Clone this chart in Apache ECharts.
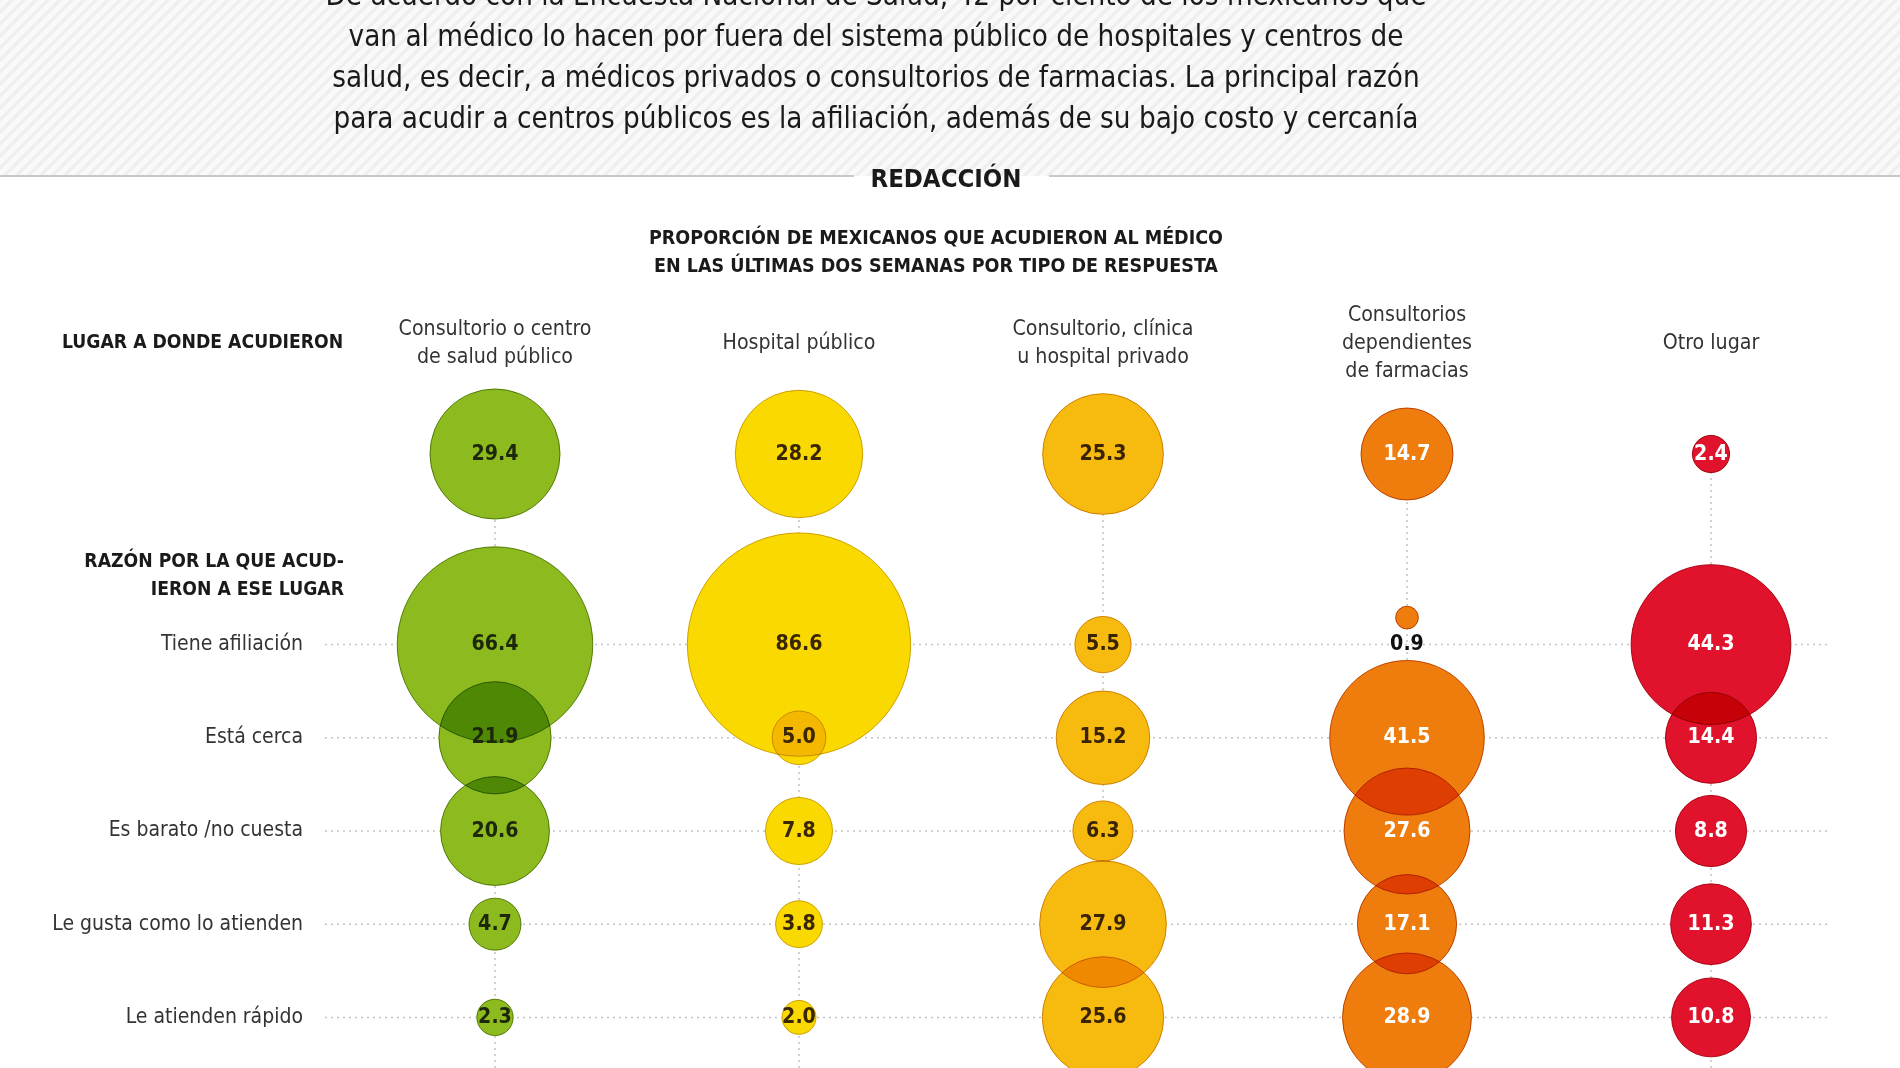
<!DOCTYPE html>
<html><head><meta charset="utf-8">
<script src="https://cdn.jsdelivr.net/npm/echarts@6/dist/echarts.min.js"></script>
<style>html,body{margin:0;padding:0;background:#fff}#c{width:1900px;height:1068px}</style>
</head><body><div id="c"></div>
<script>
// ---------- DATA ----------
const places = ['Consultorio o centro\nde salud público', 'Hospital público', 'Consultorio, clínica\nu hospital privado', 'Consultorios\ndependientes\nde farmacias', 'Otro lugar'];
const placeShare = [29.4, 28.2, 25.3, 14.7, 2.4];
const reasons = ['Tiene afiliación', 'Está cerca', 'Es barato /no cuesta', 'Le gusta como lo atienden', 'Le atienden rápido'];
const reasonPublicCenter = [66.4, 21.9, 20.6, 4.7, 2.3];
const reasonPublicHospital = [86.6, 5.0, 7.8, 3.8, 2.0];
const reasonPrivate = [5.5, 15.2, 6.3, 27.9, 25.6];
const reasonPharmacy = [0.9, 41.5, 27.6, 17.1, 28.9];
const reasonOther = [44.3, 14.4, 8.8, 11.3, 10.8];
const introLines = [
  'De acuerdo con la Encuesta Nacional de Salud, 42 por ciento de los mexicanos que',
  'van al médico lo hacen por fuera del sistema público de hospitales y centros de',
  'salud, es decir, a médicos privados o consultorios de farmacias. La principal razón',
  'para acudir a centros públicos es la afiliación, además de su bajo costo y cercanía'
];
const byline = 'REDACCIÓN';
const titleLines = ['PROPORCIÓN DE MEXICANOS QUE ACUDIERON AL MÉDICO', 'EN LAS ÚLTIMAS DOS SEMANAS POR TIPO DE RESPUESTA'];
const topRowLabel = 'LUGAR A DONDE ACUDIERON';
const reasonHeader = 'RAZÓN POR LA QUE ACUD-\nIERON A ESE LUGAR';

// ---------- STYLE ----------
const fills = ['#8dba1e', '#fad900', '#f7bb10', '#ee7d0e', '#e1122c'];
const strokes = ['#6f961a', '#d2b000', '#d69a06', '#c8620c', '#b50c22'];
const labelColors = ['#1d280a', '#3a2600', '#3a2300', '#ffffff', '#ffffff'];
const R = 12; // px of radius per sqrt(value): bubble area proportional to value

const probe = document.createElement('canvas').getContext('2d');
function available(name) {
  const s = 'abcdefghijklmnopqrstuvwxyz0123456789';
  probe.font = '40px monospace'; const a = probe.measureText(s).width;
  probe.font = `40px "${name}", monospace`; const b = probe.measureText(s).width;
  probe.font = '40px serif'; const c = probe.measureText(s).width;
  probe.font = `40px "${name}", serif`; const d = probe.measureText(s).width;
  return a !== b || c !== d;
}
const FAMILY = ['Liberation Sans Narrow', 'DejaVu Sans Condensed', 'Open Sans'].find(available) || 'sans-serif';
const FF = `"${FAMILY}", sans-serif`;
function fit(text, width, weight) {
  probe.font = `${weight} 100px ${FF}`;
  return +(100 * width / probe.measureText(text).width).toFixed(1);
}
const SZ = {
  intro: fit(introLines[2], 1086, 'normal'),
  byline: fit(byline, 151, 'bold'),
  title: fit(titleLines[0], 574, 'bold'),
  section: fit(topRowLabel, 282, 'bold'),
  header: fit('Consultorio o centro', 193, 'normal'),
  reason: fit('Le gusta como lo atienden', 251, 'normal'),
  value: fit('86.6', 47, 'bold')
};

// hatch pattern for the intro band
const hatch = document.createElement('canvas');
hatch.width = 12; hatch.height = 12;
(function () {
  const h = hatch.getContext('2d');
  h.fillStyle = '#f9f9f9'; h.fillRect(0, 0, 12, 12);
  h.strokeStyle = '#eeeeee'; h.lineWidth = 3;
  [[0, 12, 12, 0], [-6, 6, 6, -6], [6, 18, 18, 6]].forEach(l => {
    h.beginPath(); h.moveTo(l[0], l[1]); h.lineTo(l[2], l[3]); h.stroke();
  });
})();

const reasonSeries = [reasonPublicCenter, reasonPublicHospital, reasonPrivate, reasonPharmacy, reasonOther];
const reasonData = [];
reasonSeries.forEach((arr, c) => arr.forEach((v, r) => reasonData.push([c, r, v])));
const topData = placeShare.map((v, c) => [c, 0, v]);

function txt(style) {
  const s = Object.assign({}, style);
  if (s.align) s.textAlign = s.align;
  if (s.verticalAlign) s.textVerticalAlign = s.verticalAlign;
  return s;
}

function geom(api) {
  const col = api.value(0), row = api.value(1), v = api.value(2);
  const p = api.coord([col, row]);
  const r = R * Math.sqrt(v);
  const small = r < 14;
  return { col, v, p, r, small, cy: small ? p[1] - 27 : p[1] };
}
function bubbleMask(params, api) {
  const g = geom(api);
  return { type: 'circle', shape: { cx: g.p[0], cy: g.cy, r: g.r + 0.5 }, style: { fill: '#ffffff' } };
}
function bubbleCircle(params, api) {
  const g = geom(api);
  return { type: 'circle', shape: { cx: g.p[0], cy: g.cy, r: g.r },
    style: { fill: fills[g.col], stroke: strokes[g.col], lineWidth: 1 } };
}
function bubbleLabel(params, api) {
  const g = geom(api);
  return { type: 'text',
    style: txt({ text: g.v.toFixed(1), x: g.p[0], y: g.p[1], align: 'center', verticalAlign: 'middle',
      fill: g.small ? '#111111' : labelColors[g.col], fontSize: SZ.value, fontWeight: 'bold', fontFamily: FF }) };
}

const dotted = { stroke: '#c4c4c4', lineWidth: 1.5, lineDash: [2, 4] };

function layer(name, grid, data, render, z, extra) {
  return Object.assign({ type: 'custom', name, xAxisIndex: grid, yAxisIndex: grid, z, silent: true,
    data, encode: { x: 0, y: 1 }, renderItem: render }, extra || {});
}

const option = {
  backgroundColor: '#ffffff',
  animation: false,
  grid: [
    { left: 343, width: 1520, top: 310, height: 288 },
    { left: 343, width: 1520, top: 598, height: 466 }
  ],
  xAxis: [
    { gridIndex: 0, type: 'category', data: places, show: false },
    { gridIndex: 1, type: 'category', data: places, position: 'top',
      axisLine: { show: false }, axisTick: { show: false }, splitLine: { show: false },
      axisLabel: { interval: 0, margin: 255, verticalAlign: 'middle', align: 'center', lineHeight: 28,
        fontSize: SZ.header, fontFamily: FF, color: '#333333' } }
  ],
  yAxis: [
    { gridIndex: 0, type: 'category', data: [topRowLabel], show: false },
    { gridIndex: 1, type: 'category', data: reasons, inverse: true,
      axisLine: { show: false }, axisTick: { show: false }, splitLine: { show: false },
      axisLabel: { margin: 40, fontSize: SZ.reason, fontFamily: FF, color: '#333333' } }
  ],
  graphic: [
    { type: 'rect', z: -10, silent: true, shape: { x: 0, y: 0, width: 1900, height: 176 },
      style: { fill: { image: hatch, repeat: 'repeat' } } },
    { type: 'text', silent: true, style: txt({ text: introLines.join('\n'), x: 876, y: -23, align: 'center', verticalAlign: 'top',
      lineHeight: 41, fontSize: SZ.intro, fontFamily: FF, fill: '#1a1a1a' }) },
    { type: 'line', silent: true, shape: { x1: 0, y1: 176, x2: 854, y2: 176 }, style: { stroke: '#c8c8c8', lineWidth: 2 } },
    { type: 'line', silent: true, shape: { x1: 1049, y1: 176, x2: 1900, y2: 176 }, style: { stroke: '#c8c8c8', lineWidth: 2 } },
    { type: 'text', silent: true, style: txt({ text: byline, x: 946, y: 180, align: 'center', verticalAlign: 'middle',
      fontSize: SZ.byline, fontWeight: 'bold', fontFamily: FF, fill: '#1a1a1a' }) },
    { type: 'text', silent: true, style: txt({ text: titleLines.join('\n'), x: 936, y: 225, align: 'center', verticalAlign: 'top',
      lineHeight: 28, fontSize: SZ.title, fontWeight: 'bold', fontFamily: FF, fill: '#1a1a1a' }) },
    { type: 'text', silent: true, style: txt({ text: topRowLabel, x: 62, y: 343, align: 'left', verticalAlign: 'middle',
      fontSize: SZ.section, fontWeight: 'bold', fontFamily: FF, fill: '#1a1a1a' }) },
    { type: 'text', silent: true, style: txt({ text: reasonHeader, x: 344, y: 548, align: 'right', verticalAlign: 'top',
      lineHeight: 28, fontSize: SZ.section, fontWeight: 'bold', fontFamily: FF, fill: '#1a1a1a' }) }
  ],
  series: [
    layer('rowGuides', 1, reasons.map((_, i) => [0, i]), (params, api) => {
      const cs = params.coordSys; const y = api.coord([0, api.value(1)])[1];
      return { type: 'line', shape: { x1: cs.x - 18, y1: y, x2: cs.x + cs.width - 33, y2: y }, style: dotted };
    }, 1),
    layer('colGuidesB', 1, places.map((_, i) => [i, 0]), (params, api) => {
      const cs = params.coordSys; const x = api.coord([api.value(0), 0])[0];
      return { type: 'line', shape: { x1: x, y1: cs.y, x2: x, y2: cs.y + cs.height + 10 }, style: dotted };
    }, 1),
    layer('colGuidesA', 0, places.map((_, i) => [i, 0]), (params, api) => {
      const cs = params.coordSys; const p = api.coord([api.value(0), 0]);
      return { type: 'line', shape: { x1: p[0], y1: p[1], x2: p[0], y2: cs.y + cs.height }, style: dotted };
    }, 1),
    layer('LugarMask', 0, topData, bubbleMask, 2),
    layer('RazónMask', 1, reasonData, bubbleMask, 2),
    layer('Lugar', 0, topData, bubbleCircle, 3, { blendMode: 'multiply' }),
    layer('Razón', 1, reasonData, bubbleCircle, 3, { blendMode: 'multiply' }),
    layer('LugarLabels', 0, topData, bubbleLabel, 5),
    layer('RazónLabels', 1, reasonData, bubbleLabel, 5)
  ]
};

const chart = echarts.init(document.getElementById('c'), null, { renderer: 'canvas' });
chart.setOption(option);
</script>
</body></html>
